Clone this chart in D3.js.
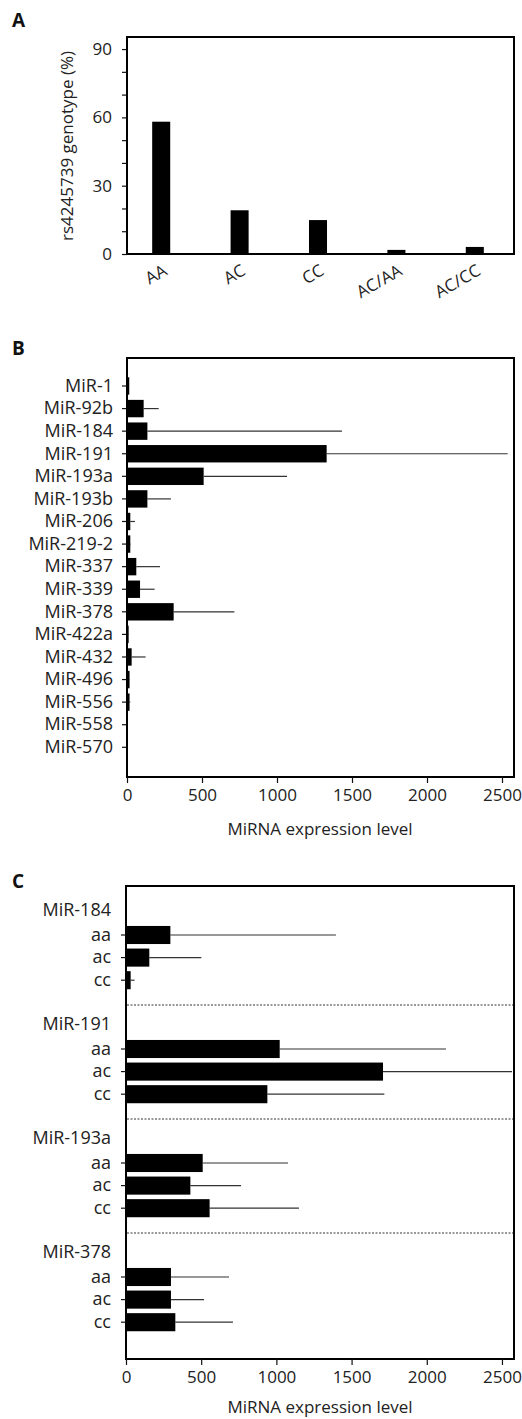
<!DOCTYPE html>
<html>
<head>
<meta charset="utf-8">
<script src="https://cdn.jsdelivr.net/npm/d3@7"></script>
<style>
  body { margin: 0; background: #fff; }
  svg { display: block; }
  svg text { font-family: "Open Sans", "Noto Sans", sans-serif; }
  .axis text { font-size: 17px; fill: #222; }
  .axis.cat text { font-size: 18px; }
  .axis path { display: none; }
  .axis line { stroke: #111; stroke-width: 1.2; }
  .title { font-size: 17px; fill: #222; }
  .panel { font-size: 19px; font-weight: bold; fill: #111; }
</style>
</head>
<body>
<div id="chart"></div>
<script>
// ---- data ----
// panel A
const genotypes = ["AA", "AC", "CC", "AC/AA", "AC/CC"];
const genotypePct = [58.1, 19.2, 14.9, 1.8, 3.1];
const pctTicks = [0, 30, 60, 90];
const pctMinor = [10, 20, 40, 50, 70, 80];

// panel B
const mirnas = ["MiR-1", "MiR-92b", "MiR-184", "MiR-191", "MiR-193a", "MiR-193b", "MiR-206",
  "MiR-219-2", "MiR-337", "MiR-339", "MiR-378", "MiR-422a", "MiR-432", "MiR-496", "MiR-556",
  "MiR-558", "MiR-570"];
const mirnaMean = [15, 111, 136, 1331, 511, 136, 22, 22, 62, 87, 311, 11, 31, 17, 17, 2, 1];
const mirnaSD = [0, 100, 1297, 1207, 556, 157, 31, 3, 158, 97, 405, 2, 93, 2, 5, 0, 0];

// panel C
const groups = ["MiR-184", "MiR-191", "MiR-193a", "MiR-378"];
const alleles = ["aa", "ac", "cc"];
const mir184Mean = [295, 155, 31], mir184SD = [1101, 346, 26];
const mir191Mean = [1022, 1709, 940], mir191SD = [1106, 858, 778];
const mir193aMean = [510, 428, 556], mir193aSD = [567, 337, 594];
const mir378Mean = [299, 299, 328], mir378SD = [386, 220, 383];

const exprTicks = [0, 500, 1000, 1500, 2000, 2500];

// ---- svg ----
const width = 522, height = 1419;
const svg = d3.select("#chart").append("svg")
  .attr("width", width)
  .attr("height", height);

function frame(x0, x1, y0, y1) {
  svg.append("rect")
    .attr("x", x0).attr("y", y0)
    .attr("width", x1 - x0).attr("height", y1 - y0)
    .attr("fill", "none").attr("stroke", "#000").attr("stroke-width", 2);
}

// ===== Panel A =====
svg.append("text").attr("class", "panel").attr("x", 12).attr("y", 27).text("A");

const yA = d3.scaleLinear().domain([0, 95.3]).range([254, 37]);
const xA = d3.scaleBand().domain(genotypes).range([122, 514])
  .paddingInner(0.77).paddingOuter(0.385);

frame(127, 514, 37, 254);

svg.append("g").attr("class", "axis")
  .attr("transform", "translate(127,0)")
  .call(d3.axisLeft(yA).tickValues(pctMinor).tickSize(5).tickFormat(""));
svg.append("g").attr("class", "axis")
  .attr("transform", "translate(127,0)")
  .call(d3.axisLeft(yA).tickValues(pctTicks).tickSize(5).tickPadding(10));

svg.selectAll(".barA")
  .data(genotypes)
  .join("rect")
  .attr("class", "barA")
  .attr("x", d => xA(d))
  .attr("width", xA.bandwidth())
  .attr("y", (d, i) => yA(genotypePct[i]))
  .attr("height", (d, i) => yA(0) - yA(genotypePct[i]))
  .attr("fill", "#000");

svg.selectAll(".labA")
  .data(genotypes)
  .join("text")
  .attr("class", "labA title")
  .attr("text-anchor", "end")
  .attr("transform", d => `translate(${xA(d) + xA.bandwidth() / 2 + 7},274) rotate(-30)`)
  .text(d => d);

svg.append("text").attr("class", "title")
  .attr("text-anchor", "middle")
  .attr("transform", "translate(73,146) rotate(-90)")
  .text("rs4245739 genotype (%)");

// ===== Panel B =====
svg.append("text").attr("class", "panel").attr("x", 12).attr("y", 355).text("B");

const xB = d3.scaleLinear().domain([0, 2580]).range([127, 514]);
const yB = d3.scaleBand().domain(mirnas).range([374.7, 758.6])
  .paddingInner(0.23).paddingOuter(0.115);

frame(127, 514, 358, 777);

svg.append("g").attr("class", "axis cat")
  .attr("transform", "translate(127,0)")
  .call(d3.axisLeft(yB).tickSize(5).tickPadding(9));
svg.append("g").attr("class", "axis")
  .attr("transform", "translate(0,777)")
  .call(d3.axisBottom(xB).tickValues(exprTicks).tickSize(6).tickPadding(6).tickFormat(d3.format("d")));

svg.selectAll(".errB")
  .data(mirnas)
  .join("line")
  .attr("class", "errB")
  .attr("x1", (d, i) => xB(mirnaMean[i]))
  .attr("x2", (d, i) => xB(mirnaMean[i] + mirnaSD[i]))
  .attr("y1", d => yB(d) + yB.bandwidth() / 2)
  .attr("y2", d => yB(d) + yB.bandwidth() / 2)
  .attr("stroke", "#333").attr("stroke-width", 1.2);

svg.selectAll(".barB")
  .data(mirnas)
  .join("rect")
  .attr("class", "barB")
  .attr("x", xB(0))
  .attr("y", d => yB(d))
  .attr("width", (d, i) => xB(mirnaMean[i]) - xB(0))
  .attr("height", yB.bandwidth())
  .attr("fill", "#000");

svg.append("text").attr("class", "title")
  .attr("text-anchor", "middle")
  .attr("x", 320).attr("y", 835)
  .text("MiRNA expression level");

// ===== Panel C =====
svg.append("text").attr("class", "panel").attr("x", 12).attr("y", 888).text("C");

const groupMeans = [mir184Mean, mir191Mean, mir193aMean, mir378Mean];
const groupSDs = [mir184SD, mir191SD, mir193aSD, mir378SD];
const rowsC = [];
groups.forEach((g, gi) => alleles.forEach((a, ai) => {
  rowsC.push({ group: g, allele: a, mean: groupMeans[gi][ai], sd: groupSDs[gi][ai] });
}));

const xC = d3.scaleLinear().domain([0, 2580]).range([126, 514]);
const yGroup = d3.scaleBand().domain(groups).range([891, 1347]);
const yAllele = d3.scaleBand().domain(alleles).range([32.7, 100.5])
  .paddingInner(0.2).paddingOuter(0.1);

frame(126, 514, 886, 1359);

// dotted separators between groups
svg.selectAll(".sepC")
  .data(groups.slice(0, -1))
  .join("line")
  .attr("class", "sepC")
  .attr("x1", 127).attr("x2", 513)
  .attr("y1", d => yGroup(d) + yGroup.step())
  .attr("y2", d => yGroup(d) + yGroup.step())
  .attr("stroke", "#333").attr("stroke-width", 1)
  .attr("stroke-dasharray", "2,1.5");

const gC = svg.selectAll(".grpC")
  .data(groups)
  .join("g")
  .attr("class", "grpC")
  .attr("transform", d => `translate(0,${yGroup(d)})`);

gC.append("text").attr("class", "title")
  .attr("text-anchor", "end")
  .attr("x", 111).attr("y", 19).attr("dy", "0.32em")
  .style("font-size", "18px")
  .text(d => d);

gC.append("g").attr("class", "axis cat")
  .attr("transform", "translate(126,0)")
  .call(d3.axisLeft(yAllele).tickSize(5).tickPadding(10));

svg.selectAll(".errC")
  .data(rowsC)
  .join("line")
  .attr("class", "errC")
  .attr("x1", d => xC(d.mean))
  .attr("x2", d => xC(d.mean + d.sd))
  .attr("y1", d => yGroup(d.group) + yAllele(d.allele) + yAllele.bandwidth() / 2)
  .attr("y2", d => yGroup(d.group) + yAllele(d.allele) + yAllele.bandwidth() / 2)
  .attr("stroke", "#333").attr("stroke-width", 1.2);

svg.selectAll(".barC")
  .data(rowsC)
  .join("rect")
  .attr("class", "barC")
  .attr("x", xC(0))
  .attr("y", d => yGroup(d.group) + yAllele(d.allele))
  .attr("width", d => xC(d.mean) - xC(0))
  .attr("height", yAllele.bandwidth())
  .attr("fill", "#000");

svg.append("g").attr("class", "axis")
  .attr("transform", "translate(0,1359)")
  .call(d3.axisBottom(xC).tickValues(exprTicks).tickSize(6).tickPadding(6).tickFormat(d3.format("d")));

svg.append("text").attr("class", "title")
  .attr("text-anchor", "middle")
  .attr("x", 320).attr("y", 1413)
  .text("MiRNA expression level");
</script>
</body>
</html>
